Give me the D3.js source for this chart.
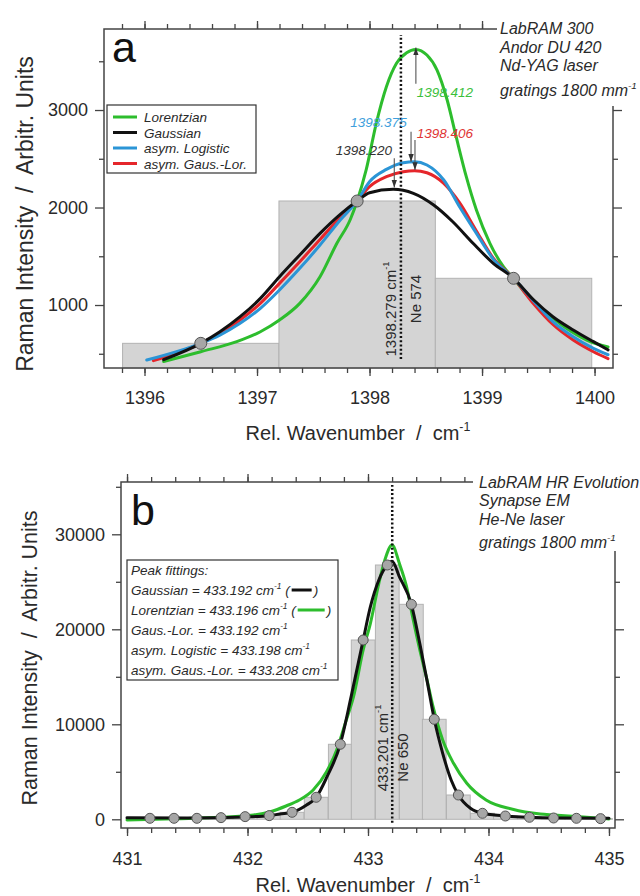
<!DOCTYPE html>
<html>
<head>
<meta charset="utf-8">
<script src="https://cdn.jsdelivr.net/npm/d3@7"></script>
<style>
  body { margin: 0; background: #fff; }
  svg { font-family: Arial, "Liberation Sans", sans-serif; }
  text { white-space: pre; }
</style>
</head>
<body>
<svg id="chart" width="640" height="896"></svg>
<script>
// ---- panel a : Nd-YAG, 3 pixels over the Ne line ----
const pixA_x = [1396.50, 1397.89, 1399.28];
const pixA_y = [607, 2067, 1274];
const pixA_w = 1.39;

const lorentzA = [[1396.17,420],[1396.50,521],[1396.82,624],[1397.03,726],[1397.20,846],[1397.38,1017],
  [1397.56,1290],[1397.71,1633],[1397.83,1880],[1397.89,2067],[1397.97,2385],[1398.06,2864],[1398.15,3239],
  [1398.24,3479],[1398.33,3588],[1398.41,3622],[1398.51,3564],[1398.60,3410],[1398.69,3103],[1398.77,2726],
  [1398.86,2316],[1398.95,1974],[1399.07,1633],[1399.19,1393],[1399.28,1274],[1399.40,1103],[1399.58,915],
  [1399.75,761],[1399.93,641],[1400.12,570]];
const gaussA = [[1396.17,440],[1396.50,607],[1396.67,726],[1396.85,880],[1397.03,1068],[1397.20,1290],
  [1397.38,1513],[1397.56,1735],[1397.74,1930],[1397.89,2067],[1398.00,2152],[1398.21,2187],[1398.39,2146],
  [1398.57,2026],[1398.74,1854],[1398.92,1633],[1399.10,1428],[1399.28,1274],[1399.46,1051],[1399.63,880],
  [1399.81,744],[1399.99,624],[1400.12,540]];
const logisticA = [[1396.02,436],[1396.50,607],[1396.67,692],[1396.85,812],[1397.03,966],[1397.20,1154],
  [1397.38,1376],[1397.56,1615],[1397.74,1872],[1397.89,2067],[1398.00,2265],[1398.15,2391],[1398.30,2459],
  [1398.40,2470],[1398.51,2436],[1398.66,2282],[1398.80,2008],[1398.95,1735],[1399.10,1470],[1399.28,1274],
  [1399.46,1040],[1399.63,830],[1399.81,675],[1399.99,556],[1400.12,490]];
const gausLorA = [[1396.08,429],[1396.50,607],[1396.67,709],[1396.85,846],[1397.03,1017],[1397.20,1222],
  [1397.38,1444],[1397.56,1673],[1397.74,1899],[1397.89,2067],[1398.00,2214],[1398.15,2316],[1398.30,2367],
  [1398.40,2378],[1398.51,2357],[1398.66,2248],[1398.80,2050],[1398.95,1760],[1399.10,1480],[1399.28,1274],
  [1399.46,1010],[1399.63,800],[1399.81,641],[1399.99,521],[1400.12,450]];

const neA = 1398.279;
const seriesA = ["Lorentzian", "Gaussian", "asym. Logistic", "asym. Gaus.-Lor."];
const peakLabelsA = ["1398.412", "1398.375", "1398.406", "1398.220"];

// ---- panel b : He-Ne, 20 pixels over the Ne line ----
const pixB_x = [431.19,431.39,431.58,431.78,431.98,432.18,432.37,432.57,432.77,432.96,
  433.16,433.36,433.55,433.75,433.95,434.14,434.34,434.54,434.73,434.93];
const pixB_y = [105,105,105,175,280,385,735,2316,7895,18874,
  26768,22630,10526,2558,632,347,210,137,105,70];
const pixB_w = 0.197;

const gaussB = [[431.0,150],[431.5,140],[431.98,250],[432.18,385],[432.27,560],[432.37,735],[432.49,1500],
  [432.57,2316],[432.66,4484],[432.77,7895],[432.86,12906],[432.96,18874],[433.02,22379],[433.09,25190],
  [433.16,26768],[433.20,27150],[433.26,25537],[433.36,22630],[433.43,18500],[433.49,14600],[433.55,10526],
  [433.62,6947],[433.69,4137],[433.75,2558],[433.85,1158],[433.95,632],[434.14,347],[434.34,210],
  [434.6,140],[435.0,110]];
const lorentzB = [[431.0,-80],[431.4,60],[431.77,210],[432.05,453],[432.19,800],[432.32,1400],[432.43,2032],
  [432.545,3084],[432.656,5011],[432.74,7295],[432.82,10453],[432.88,12906],[432.96,17822],[433.02,20632],
  [433.09,24842],[433.14,27300],[433.20,28874],[433.26,26947],[433.32,24484],[433.37,21326],[433.43,17821],
  [433.49,14663],[433.54,11853],[433.62,8347],[433.71,5895],[433.82,3789],[433.98,2032],[434.20,1053],
  [434.43,558],[434.54,453],[434.93,105],[435.0,40]];

const neB = 433.201;
const fitNamesB = ["Gaussian", "Lorentzian", "Gaus.-Lor.", "asym. Logistic", "asym. Gaus.-Lor."];
const fitValuesB = ["433.192", "433.196", "433.192", "433.198", "433.208"];

const instrA = ["LabRAM 300", "Andor DU 420", "Nd-YAG laser", "gratings 1800 mm"];
const instrB = ["LabRAM HR Evolution", "Synapse EM", "He-Ne laser", "gratings 1800 mm"];

const xTicksA = [1396, 1397, 1398, 1399, 1400];
const yTicksA = [1000, 2000, 3000];
const xTicksB = [431, 432, 433, 434, 435];
const yTicksB = [0, 10000, 20000, 30000];

// colours
const cGreen = "#2dbd2d", cBlack = "#111", cBlue = "#2b95d6", cRed = "#e5262b";
const ink = "#2a2a2a", axisCol = "#444";

const svg = d3.select("#chart");
const defs = svg.append("defs");
defs.append("marker").attr("id", "arr").attr("viewBox", "0 0 10 10")
  .attr("refX", 10).attr("refY", 5).attr("markerWidth", 7).attr("markerHeight", 7)
  .attr("orient", "auto-start-reverse")
  .append("path").attr("d", "M0,1.5 L10,5 L0,8.5 z").attr("fill", "#333");

function sup(t, main, s) {
  t.append("tspan").text(main);
  t.append("tspan").attr("font-size", "0.62em").attr("dy", "-0.75em").text(s);
}

function range(a, b, step) {
  const out = [];
  for (let v = a; v <= b + 1e-9; v += step) out.push(+v.toFixed(6));
  return out;
}

// frame, mirrored ticks on 4 sides
function drawAxes(g, x, y, fr, xMaj, xMin, yMaj, yMin, fmt, padB) {
  g.append("rect").attr("x", fr.l).attr("y", fr.t)
    .attr("width", fr.r - fr.l).attr("height", fr.b - fr.t)
    .attr("fill", "none").attr("stroke", axisCol).attr("stroke-width", 1.5);

  const put = (axis, tf, vals, size, labels, pad) => {
    const a = g.append("g").attr("transform", tf)
      .call(axis.tickValues(vals).tickSize(size).tickSizeOuter(0)
        .tickPadding(pad || 3).tickFormat(labels ? fmt : ""));
    a.select(".domain").remove();
    a.attr("font-size", 18).attr("font-family", null).attr("color", axisCol);
    a.selectAll("line").attr("stroke-width", 1.3);
    a.selectAll("text").attr("fill", ink);
  };
  put(d3.axisBottom(x), `translate(0,${fr.b})`, xMaj, 8, true, padB);
  put(d3.axisBottom(x), `translate(0,${fr.b})`, xMin, 5, false);
  put(d3.axisTop(x), `translate(0,${fr.t})`, xMaj, 8, false);
  put(d3.axisTop(x), `translate(0,${fr.t})`, xMin, 5, false);
  put(d3.axisLeft(y), `translate(${fr.l},0)`, yMaj, 9, true, 7);
  put(d3.axisLeft(y), `translate(${fr.l},0)`, yMin, 5, false);
  put(d3.axisRight(y), `translate(${fr.r},0)`, yMaj, 9, false);
  put(d3.axisRight(y), `translate(${fr.r},0)`, yMin, 5, false);
}

function drawBars(g, x, y, xs, ys, w, y0) {
  g.selectAll("rect.bar").data(xs).join("rect").attr("class", "bar")
    .attr("x", d => x(d - w / 2))
    .attr("width", d => x(d + w / 2) - x(d - w / 2))
    .attr("y", (d, i) => y(ys[i]))
    .attr("height", (d, i) => y(y0) - y(ys[i]))
    .attr("fill", "#d4d4d4").attr("stroke", "#b3b3b3").attr("stroke-width", 1);
}

function drawCurve(g, x, y, data, col) {
  g.append("path").datum(data)
    .attr("d", d3.line().x(d => x(d[0])).y(d => y(d[1])).curve(d3.curveMonotoneX))
    .attr("fill", "none").attr("stroke", col).attr("stroke-width", 3)
    .attr("stroke-linejoin", "round").attr("stroke-linecap", "round");
}

function drawPoints(g, x, y, xs, ys, r) {
  g.selectAll("circle.pt").data(xs).join("circle").attr("class", "pt")
    .attr("cx", d => x(d)).attr("cy", (d, i) => y(ys[i])).attr("r", r)
    .attr("fill", "#a6a6a6").attr("stroke", "#555").attr("stroke-width", 1);
}

function dotted(g, x, y, xv, y1, y2) {
  g.append("line").attr("x1", x(xv)).attr("x2", x(xv)).attr("y1", y(y1)).attr("y2", y(y2))
    .attr("stroke", "#111").attr("stroke-width", 2.5).attr("stroke-dasharray", "2,2.2");
}

function vLabel(g, px, py, build) {
  const t = g.append("text").attr("transform", `translate(${px},${py}) rotate(-90)`)
    .attr("text-anchor", "middle").attr("font-size", 15).attr("fill", ink);
  build(t);
}

function instrument(g, x0, lines, ys, cover) {
  g.append("rect").attr("x", cover[0]).attr("y", cover[1]).attr("width", cover[2]).attr("height", cover[3]).attr("fill", "#fff");
  lines.forEach((s, i) => {
    const t = g.append("text").attr("x", x0).attr("y", ys[i]).attr("font-size", 16)
      .attr("font-style", "italic").attr("fill", ink);
    if (i === lines.length - 1) sup(t, s, "-1"); else t.text(s);
  });
}

// ================= panel a =================
const frA = { l: 104, r: 613, t: 29, b: 368 };
const xA = d3.scaleLinear().domain([1395.64, 1400.164]).range([frA.l, frA.r]);
const yA = d3.scaleLinear().domain([354, 3831]).range([frA.b, frA.t]);
const gA = svg.append("g");

drawBars(gA, xA, yA, pixA_x, pixA_y, pixA_w, yA.domain()[0]);
drawCurve(gA, xA, yA, lorentzA, cGreen);
drawCurve(gA, xA, yA, gausLorA, cRed);
drawCurve(gA, xA, yA, logisticA, cBlue);
drawCurve(gA, xA, yA, gaussA, cBlack);
dotted(gA, xA, yA, neA, 446, 3769);
drawPoints(gA, xA, yA, pixA_x, pixA_y, 6);

vLabel(gA, xA(1398.235), yA(959), t => sup(t, "1398.279 cm", "-1"));
vLabel(gA, xA(1398.46), yA(1062), t => t.text("Ne 574"));

// peak arrows + labels
const arrowsA = [
  { x: 1398.412, from: 3270, to: 3640 },
  { x: 1398.369, from: 2777, to: 2470 },
  { x: 1398.404, from: 2692, to: 2385 },
  { x: 1398.220, from: 2505, to: 2205 }
];
arrowsA.forEach(a => {
  gA.append("line").attr("x1", xA(a.x)).attr("x2", xA(a.x)).attr("y1", yA(a.from)).attr("y2", yA(a.to))
    .attr("stroke", "#555").attr("stroke-width", 1.1).attr("marker-end", "url(#arr)");
});
const labPosA = [
  { x: 1398.42, y: 3136, anchor: "start", col: "#3cbf3c" },
  { x: 1398.33, y: 2828, anchor: "end", col: "#3f9fdc" },
  { x: 1398.42, y: 2710, anchor: "start", col: "#e03535" },
  { x: 1398.20, y: 2538, anchor: "end", col: "#333" }
];
peakLabelsA.forEach((s, i) => {
  const p = labPosA[i];
  gA.append("text").attr("x", xA(p.x)).attr("y", yA(p.y)).attr("text-anchor", p.anchor)
    .attr("font-size", 13.5).attr("font-style", "italic").attr("fill", p.col).text(s);
});

// legend a
gA.append("rect").attr("x", 107).attr("y", 105).attr("width", 149).attr("height", 68)
  .attr("fill", "#fff").attr("stroke", "#333").attr("stroke-width", 1.2);
[cGreen, cBlack, cBlue, cRed].forEach((c, i) => {
  const yy = 117 + i * 15.5;
  gA.append("line").attr("x1", 113).attr("x2", 137).attr("y1", yy).attr("y2", yy)
    .attr("stroke", c).attr("stroke-width", 3);
  gA.append("text").attr("x", 144).attr("y", yy + 5).attr("font-size", 13.5)
    .attr("font-style", "italic").attr("fill", ink).text(seriesA[i]);
});

drawAxes(gA, xA, yA, frA, xTicksA, range(1395.8, 1400.0, 0.2), yTicksA, [500, 1500, 2500, 3500], d3.format("d"), 15);
instrument(gA, 500, instrA, [34, 53, 71, 96], [497, 0, 143, 106]);

gA.append("text").attr("x", 112).attr("y", 62).attr("font-size", 43).attr("fill", "#111").text("a");

const tyA = gA.append("text").attr("transform", `translate(33,214) rotate(-90)`)
  .attr("text-anchor", "middle").attr("font-size", 23).attr("fill", ink);
tyA.text("Raman Intensity  /  Arbitr. Units");
const txA = gA.append("text").attr("x", 358).attr("y", 440).attr("text-anchor", "middle")
  .attr("font-size", 20).attr("fill", ink);
sup(txA, "Rel. Wavenumber  /  cm", "-1");

// ================= panel b =================
const frB = { l: 121, r: 615, t: 482, b: 828 };
const xB = d3.scaleLinear().domain([430.95, 435.05]).range([frB.l, frB.r]);
const yB = d3.scaleLinear().domain([-916, 35505]).range([frB.b, frB.t]);
const gB = svg.append("g");

drawBars(gB, xB, yB, pixB_x, pixB_y, pixB_w, 0);
drawCurve(gB, xB, yB, lorentzB, cGreen);
drawCurve(gB, xB, yB, gaussB, cBlack);
dotted(gB, xB, yB, neB, -360, 35190);
drawPoints(gB, xB, yB, pixB_x, pixB_y, 5);

vLabel(gB, xB(433.165), yB(7505), t => sup(t, "433.201 cm", "-1"));
vLabel(gB, xB(433.33), yB(6505), t => t.text("Ne 650"));

// legend b
gB.append("rect").attr("x", 127).attr("y", 560).attr("width", 211).attr("height", 120)
  .attr("fill", "#fff").attr("stroke", "#333").attr("stroke-width", 1.2);
gB.append("text").attr("x", 131).attr("y", 575).attr("font-size", 13.5)
  .attr("font-style", "italic").attr("fill", ink).text("Peak fittings:");
fitNamesB.forEach((n, i) => {
  const yy = 595 + i * 20;
  const t = gB.append("text").attr("x", 131).attr("y", yy).attr("font-size", 13.5)
    .attr("font-style", "italic").attr("fill", ink);
  sup(t, `${n} = ${fitValuesB[i]} cm`, "-1");
  if (i < 2) {
    t.append("tspan").attr("dy", "0.465em").text(" (");
    const end = 131 + t.node().getComputedTextLength();
    const len = i === 0 ? 20 : 27;
    gB.append("line").attr("x1", end + 2).attr("x2", end + 2 + len).attr("y1", yy - 5).attr("y2", yy - 5)
      .attr("stroke", i === 0 ? cBlack : cGreen).attr("stroke-width", 3);
    gB.append("text").attr("x", end + len + 4).attr("y", yy).attr("font-size", 13.5)
      .attr("font-style", "italic").attr("fill", ink).text(")");
  }
});

drawAxes(gB, xB, yB, frB, xTicksB, range(431, 435, 0.2), yTicksB, [5000, 15000, 25000, 35000], d3.format("d"), 16);
instrument(gB, 479, instrB, [488, 506, 525, 548], [473, 458, 167, 93]);

gB.append("text").attr("x", 131).attr("y", 525).attr("font-size", 43).attr("fill", "#111").text("b");

const tyB = gB.append("text").attr("transform", `translate(37,658) rotate(-90)`)
  .attr("text-anchor", "middle").attr("font-size", 21.5).attr("fill", ink);
tyB.text("Raman Intensity  /  Arbitr. Units");
const txB = gB.append("text").attr("x", 368).attr("y", 892).attr("text-anchor", "middle")
  .attr("font-size", 20).attr("fill", ink);
sup(txB, "Rel. Wavenumber  /  cm", "-1");
</script>
</body>
</html>
